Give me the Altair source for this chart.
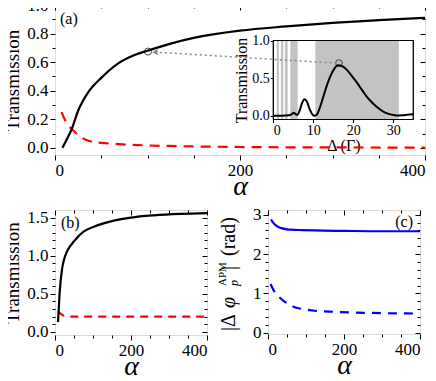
import altair as alt
import pandas as pd

FONT = "serif"

# ---------------- data ----------------
a_alpha_black = [8, 12, 18, 25, 36, 50, 68, 86, 100, 125, 150, 200, 250, 300, 350, 400]
a_T_black = [0.0, 0.05, 0.13, 0.26, 0.39, 0.49, 0.59, 0.65, 0.68, 0.73, 0.77, 0.82, 0.85, 0.875, 0.894, 0.91]
a_alpha_red = [7, 12, 20, 28, 36, 50, 65, 80, 100, 150, 200, 300, 400]
a_T_red = [0.25, 0.18, 0.12, 0.075, 0.05, 0.035, 0.028, 0.022, 0.017, 0.01, 0.006, 0.003, 0.002]
a_marker_alpha = [100.5]
a_marker_T = [0.674]
a_arrow_alpha = [108, 307]
a_arrow_T = [0.67, 0.592]

in_delta = [0, 2, 4, 4.6, 5.1, 5.6, 6.0, 6.6, 7.2, 7.8, 8.4, 9.0, 9.6, 10.2, 10.8, 11.6, 12.6, 13.5,
            14.3, 15.2, 16.2, 17.2, 18.4, 19.6, 20.9, 22.2, 23.4, 24.8, 26.3, 27.5, 28.8, 30, 31.3,
            32.5, 33.5, 35]
in_T = [0.0, 0.0, 0.005, 0.02, 0.04, 0.02, 0.01, 0.07, 0.17, 0.22, 0.19, 0.10, 0.03, 0.0, 0.01, 0.10,
        0.27, 0.42, 0.53, 0.62, 0.67, 0.66, 0.61, 0.53, 0.44, 0.34, 0.25, 0.17, 0.10, 0.055, 0.025,
        0.01, 0.003, 0.005, 0.012, 0.02]
in_band_lo = [0.85, 1.9, 2.9, 4.25, 10.5]
in_band_hi = [1.4, 2.5, 3.6, 6.1, 31.4]
in_marker_delta = [16.4]
in_marker_T = [0.70]

b_alpha_black = [8, 12, 19, 25, 32, 50, 76, 102, 155, 200, 260, 330, 400]
b_T_black = [0.13, 0.5, 0.84, 0.97, 1.06, 1.19, 1.32, 1.38, 1.46, 1.5, 1.53, 1.55, 1.56]
b_alpha_red = [7, 12, 19, 25, 50, 100, 200, 400]
b_T_red = [0.27, 0.25, 0.225, 0.21, 0.2, 0.2, 0.2, 0.2]

c_alpha_solid = [8, 12, 18, 25, 35, 50, 62, 90, 123, 200, 300, 400]
c_phi_solid = [2.88, 2.82, 2.75, 2.7, 2.66, 2.63, 2.62, 2.61, 2.6, 2.59, 2.58, 2.58]
c_alpha_dash = [7, 12, 18, 28, 40, 55, 70, 95, 123, 160, 211, 300, 400]
c_phi_dash = [1.24, 1.13, 1.03, 0.92, 0.82, 0.72, 0.65, 0.6, 0.56, 0.54, 0.52, 0.5, 0.49]

x_major = [0, 200, 400]
x_minor = [50, 100, 150, 250, 300, 350]
a_y_major = [0.0, 0.2, 0.4, 0.6, 0.8, 1.0]
a_y_minor = [0.1, 0.3, 0.5, 0.7, 0.9]
b_y_major = [0.0, 0.5, 1.0, 1.5]
b_y_minor = [0.1, 0.2, 0.3, 0.4, 0.6, 0.7, 0.8, 0.9, 1.1, 1.2, 1.3, 1.4]
c_y_major = [0, 1, 2, 3]
c_y_minor = [0.2, 0.4, 0.6, 0.8, 1.2, 1.4, 1.6, 1.8, 2.2, 2.4, 2.6, 2.8]
in_x_major = [0, 10, 20, 30]
in_y_major = [0.0, 0.5, 1.0]


def df(**cols):
    return pd.DataFrame(cols)


def frame_axes(xs, ys, xmaj, xmin, ymaj, ymin, xtitle, ytitle, yfmt):
    dummy = df(x=[xs.domain[0]], y=[ys.domain[0]])
    base = alt.Chart(dummy).mark_point(opacity=0)
    lab = dict(labelFont=FONT, labelFontSize=17, labelColor="black", titleFont=FONT,
               titleColor="black", domain=False, tickColor="black", grid=False)
    l1 = base.encode(
        x=alt.X("x:Q", scale=xs, axis=alt.Axis(orient="bottom", values=xmaj, tickSize=5,
                                               labelPadding=2, title=xtitle, titleFontSize=28,
                                               titleFontStyle="italic", titleFontWeight="normal",
                                               titlePadding=-6, format="d", **lab)),
        y=alt.Y("y:Q", scale=ys, axis=alt.Axis(orient="left", values=ymaj, tickSize=5,
                                               labelPadding=2, title=ytitle, titleFontSize=19,
                                               titleFontWeight="normal", titlePadding=4,
                                               format=yfmt, **lab)),
    )
    l2 = base.encode(
        x=alt.X("x:Q", scale=xs, axis=alt.Axis(orient="bottom", values=xmin, tickSize=3,
                                               labels=False, title=None, **lab)),
        y=alt.Y("y:Q", scale=ys, axis=alt.Axis(orient="left", values=ymin, tickSize=3,
                                               labels=False, title=None, **lab)),
    )
    l3 = base.encode(
        x=alt.X("x:Q", scale=xs, axis=alt.Axis(orient="top", values=xmaj, tickSize=5, offset=-5,
                                               labels=False, title=None, **lab)),
        y=alt.Y("y:Q", scale=ys, axis=alt.Axis(orient="right", values=ymaj, tickSize=5, offset=-5,
                                               labels=False, title=None, **lab)),
    )
    l4 = base.encode(
        x=alt.X("x:Q", scale=xs, axis=alt.Axis(orient="top", values=xmin, tickSize=3, offset=-3,
                                               labels=False, title=None, **lab)),
        y=alt.Y("y:Q", scale=ys, axis=alt.Axis(orient="right", values=ymin, tickSize=3, offset=-3,
                                               labels=False, title=None, **lab)),
    )
    return [l1, l2, l3, l4]


def line(xs, ys, xv, yv, color, dash=None, width=2.2):
    kw = dict(color=color, strokeWidth=width, interpolate="monotone", clip=True)
    if dash:
        kw["strokeDash"] = dash
    return alt.Chart(df(x=xv, y=yv)).mark_line(**kw).encode(
        x=alt.X("x:Q", scale=xs, axis=None), y=alt.Y("y:Q", scale=ys, axis=None))


def label(txt, px, py, align="left", size=16):
    return alt.Chart(df(t=[txt])).mark_text(font=FONT, fontSize=size, align=align,
                                            baseline="middle", color="black").encode(
        x=alt.value(px), y=alt.value(py), text="t:N")


WA, HA = 370, 150
xa = alt.Scale(domain=[0, 400], nice=False, zero=False)
ya = alt.Scale(domain=[-0.05, 1.0], nice=False, zero=False)

arrow = alt.Chart(df(x=a_arrow_alpha, y=a_arrow_T)).mark_line(
    color="#8a8a8a", strokeWidth=1.5, strokeDash=[2, 3]).encode(
    x=alt.X("x:Q", scale=xa, axis=None), y=alt.Y("y:Q", scale=ya, axis=None))
arrow_head = alt.Chart(df(x=a_arrow_alpha[:1], y=a_arrow_T[:1])).mark_point(
    shape="triangle-left", filled=True, color="#8a8a8a", size=40, opacity=1).encode(
    x=alt.X("x:Q", scale=xa, axis=None), y=alt.Y("y:Q", scale=ya, axis=None))
marker_a = alt.Chart(df(x=a_marker_alpha, y=a_marker_T)).mark_point(
    shape="circle", filled=False, color="black", size=50, strokeWidth=1).encode(
    x=alt.X("x:Q", scale=xa, axis=None), y=alt.Y("y:Q", scale=ya, axis=None))

IN_L, IN_R, IN_B, IN_T = 218.3, 358.3, 114.5, 35.5
xi = alt.Scale(domain=[0, 35], range=[IN_L, IN_R], nice=False, zero=False)
yi = alt.Scale(domain=[-0.05, 1.0], range=[IN_B, IN_T], nice=False, zero=False)
lab_i = dict(labelFont=FONT, labelFontSize=14, labelColor="black", titleFont=FONT,
             titleColor="black", domain=False, tickColor="black", grid=False,
             titleFontWeight="normal")
inset_frame = alt.Chart(df(x0=[0], x1=[35], y0=[-0.05], y1=[1.0])).mark_rect(
    fill="white", stroke="black", strokeWidth=1).encode(
    x=alt.X("x0:Q", scale=xi, axis=alt.Axis(orient="bottom", offset=-(HA - IN_B),
                                             values=in_x_major, tickSize=3, labelPadding=1,
                                             title="Δ (Γ)", titleFontSize=16, titlePadding=0,
                                             format="d", **lab_i)),
    x2="x1:Q",
    y=alt.Y("y0:Q", scale=yi, axis=alt.Axis(orient="left", offset=-IN_L, values=in_y_major,
                                             tickSize=3, labelPadding=1, title="Transmission",
                                             titleFontSize=16, titlePadding=2, format=".1f",
                                             **lab_i)),
    y2="y1:Q")
inset_outline = alt.Chart(df(x0=[0], x1=[35], y0=[-0.05], y1=[1.0])).mark_rect(
    fill=None, stroke="black", strokeWidth=1).encode(
    x=alt.X("x0:Q", scale=xi, axis=None), x2="x1:Q",
    y=alt.Y("y0:Q", scale=yi, axis=None), y2="y1:Q")
bands = alt.Chart(df(lo=in_band_lo, hi=in_band_hi)).mark_rect(color="#c3c3c3").encode(
    x=alt.X("lo:Q", scale=xi, axis=None), x2="hi:Q",
    y=alt.Y("y0:Q", scale=yi, axis=None), y2="y1:Q",
).transform_calculate(y0="-0.05", y1="1.0")
inset_line = line(xi, yi, in_delta, in_T, "black", width=2)
inset_marker = alt.Chart(df(x=in_marker_delta, y=in_marker_T)).mark_point(
    shape="circle", filled=False, color="black", size=45, strokeWidth=1).encode(
    x=alt.X("x:Q", scale=xi, axis=None), y=alt.Y("y:Q", scale=yi, axis=None))

panel_a = alt.layer(
    *frame_axes(xa, ya, x_major, x_minor, a_y_major, a_y_minor, "α", "Transmission", ".1f"),
    inset_frame, bands, inset_line, inset_marker, inset_outline,
    line(xa, ya, a_alpha_red, a_T_red, "#ff0000", dash=[10, 7]),
    line(xa, ya, a_alpha_black, a_T_black, "black"),
    arrow, arrow_head, marker_a,
    label("(a)", 5, 14),
).resolve_scale(x="independent", y="independent").resolve_axis(
    x="independent", y="independent").properties(width=WA, height=HA)

WB, HB = 152, 125
xb = alt.Scale(domain=[0, 400], nice=False, zero=False)
yb = alt.Scale(domain=[-0.04, 1.6], nice=False, zero=False)
panel_b = alt.layer(
    *frame_axes(xb, yb, x_major, x_minor, b_y_major, b_y_minor, "α", "Transmission", ".1f"),
    line(xb, yb, b_alpha_red, b_T_red, "#ff0000", dash=[8, 6]),
    line(xb, yb, b_alpha_black, b_T_black, "black"),
    label("(b)", 6, 13),
).resolve_axis(x="independent", y="independent").properties(width=WB, height=HB)

xc = alt.Scale(domain=[0, 400], nice=False, zero=False)
yc = alt.Scale(domain=[-0.03, 3.12], nice=False, zero=False)


def vtext(txt, px, py, size=20, style="normal"):
    return alt.Chart(df(t=[txt])).mark_text(font=FONT, fontSize=size, align="left",
                                            baseline="middle", angle=270, fontStyle=style,
                                            color="black").encode(
        x=alt.value(px), y=alt.value(py), text="t:N")


panel_c = alt.layer(
    *frame_axes(xc, yc, x_major, x_minor, c_y_major, c_y_minor, "α", None, "d"),
    line(xc, yc, c_alpha_dash, c_phi_dash, "#0000ff", dash=[9, 7]),
    line(xc, yc, c_alpha_solid, c_phi_solid, "#0000ff"),
    label("(c)", 145, 12, align="right"),
    vtext("|Δ", -39, 121),
    vtext("φ", -39, 98, style="italic"),
    vtext("APM", -45, 76, size=11),
    vtext("p", -34, 76, size=12, style="italic"),
    vtext("|", -39, 60),
    vtext("(rad)", -39, 46),
).resolve_axis(x="independent", y="independent").properties(width=WB, height=HB - 1)

chart = alt.vconcat(
    panel_a,
    alt.hconcat(panel_b, panel_c, spacing=8),
    spacing=4,
).properties(padding={"left": -5, "top": -13, "right": 0, "bottom": 0}).configure_view(
    stroke="black", strokeWidth=1).configure(background="white")

chart.save("out.html", embed_options={"renderer": "svg", "actions": False})
